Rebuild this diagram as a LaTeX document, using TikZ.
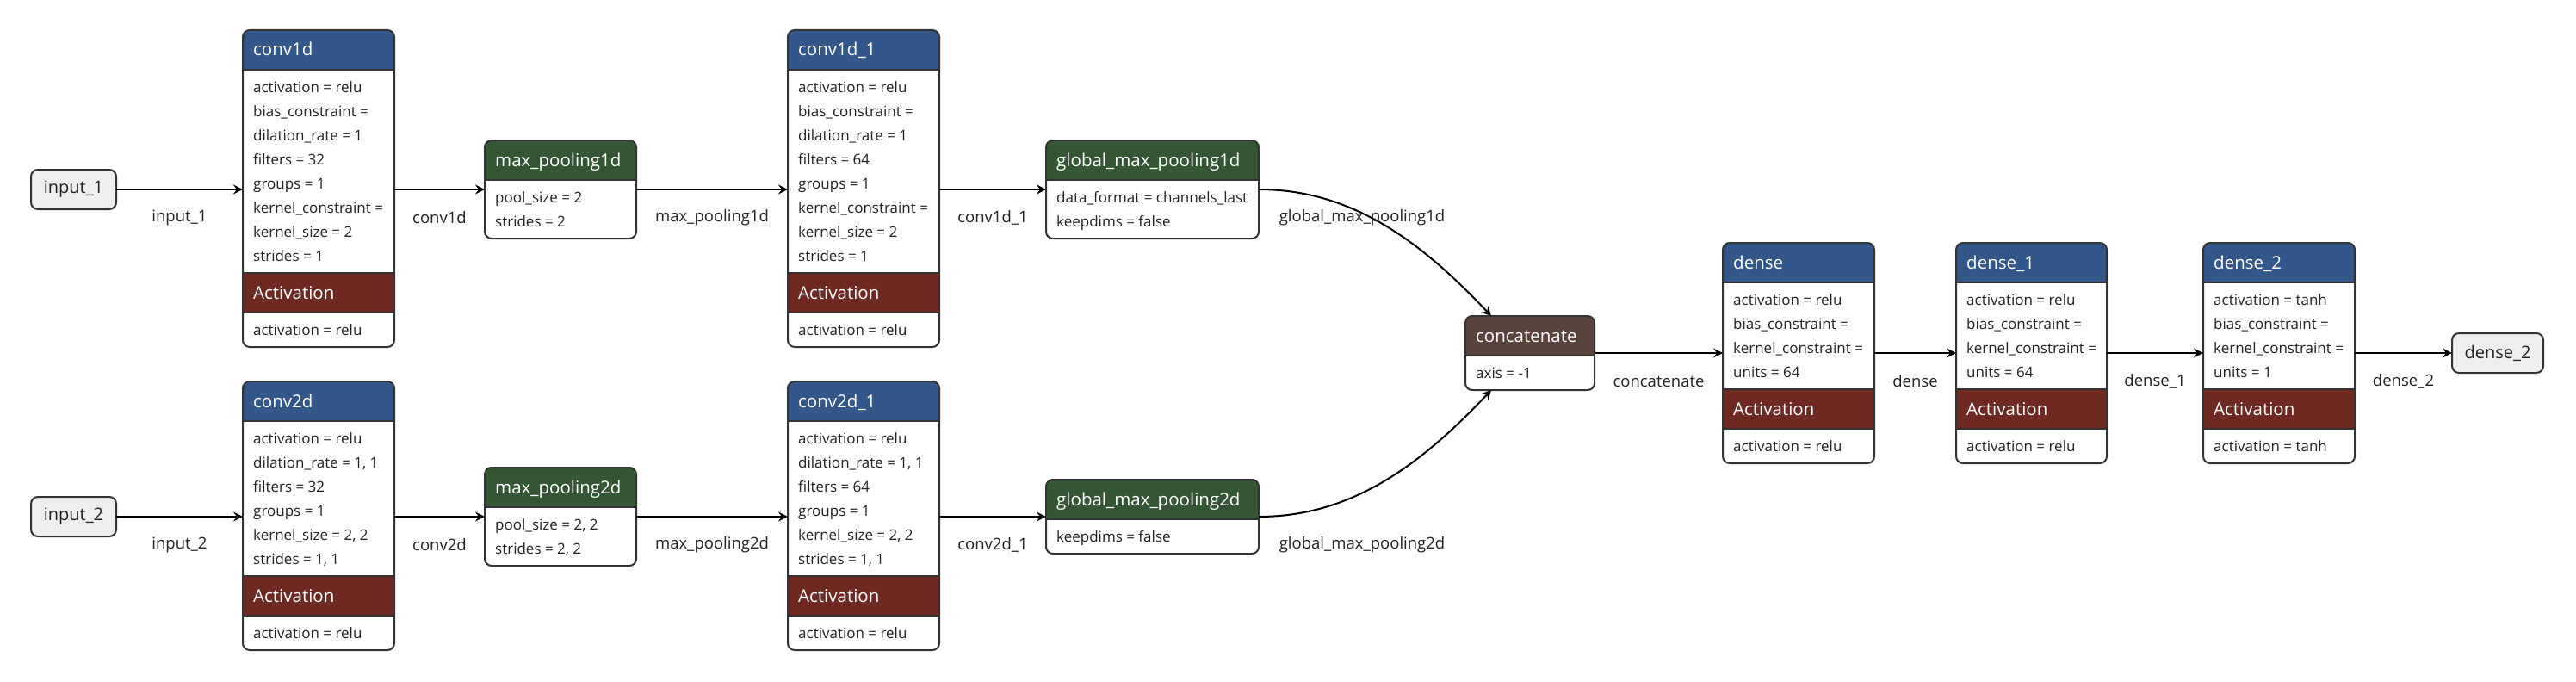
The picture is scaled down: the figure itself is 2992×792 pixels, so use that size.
\documentclass[tikz,border=0pt]{standalone}
\usepackage{fontspec}
\setmainfont{Open Sans}
\usetikzlibrary{arrows.meta,calc}
\definecolor{hblue}{HTML}{34578A}
\definecolor{hgreen}{HTML}{355634}
\definecolor{hred}{HTML}{6D2922}
\definecolor{hbrown}{HTML}{5A433C}
\definecolor{edgegray}{HTML}{333333}
\definecolor{infill}{HTML}{EEEEEE}
\definecolor{txt}{HTML}{222222}
\tikzset{
  lframe/.style={draw=edgegray, line width=2pt, rounded corners=8pt, inner sep=0pt, outer sep=0pt},
  sepline/.style={draw=edgegray, line width=2.5pt},
  ttl/.style={anchor=west, text=white, font=\fontsize{20.5}{24}\selectfont, inner sep=0pt, text height=15pt, text depth=5pt},
  prm/.style={anchor=west, text=txt, font=\fontsize{17}{20}\selectfont, inner sep=0pt, text height=12.5pt, text depth=4pt},
  iobox/.style={draw=edgegray, fill=infill, line width=2pt, rounded corners=8pt, inner sep=0pt, outer sep=0pt, text=txt, font=\fontsize{20}{24}\selectfont},
  elbl/.style={font=\fontsize{18.5}{22}\selectfont, text=txt, inner sep=0pt},
  arr/.style={draw=black, line width=2pt, -{Stealth[length=11pt,width=11pt,inset=4pt]}},
}
% plain layer: name, x1, x2, ytop, colour, title, n rows, rows
\newcommand\plainlayer[8]{%
  \pgfmathsetmacro\yb{#4+68+28*(#7-1)+18}
  \begin{scope}
    \clip[rounded corners=8pt] (#2,#4) rectangle (#3,\yb);
    \fill[white] (#2,#4) rectangle (#3,\yb);
    \fill[#5] (#2,#4) rectangle (#3,#4+46);
    \draw[sepline] (#2,#4+46) -- (#3,#4+46);
  \end{scope}
  \node[lframe, anchor=north west, minimum width={#3-#2}, minimum height={\yb-#4}] (#1) at (#2,#4) {};
  \node[ttl] (#1-t) at (#2+12,#4+25) {#6};
  \foreach \rowtext [count=\i] in {#8} {\node[prm] (#1-p\i) at (#2+12,{#4+68+28*(\i-1)}) {\rowtext};}
}
% layer with activation: name, x1, x2, ytop, title, n rows, rows, activation row
\newcommand\actlayer[8]{%
  \pgfmathsetmacro\ya{#4+68+28*(#6-1)+18}
  \pgfmathsetmacro\yb{\ya+46+22+18}
  \begin{scope}
    \clip[rounded corners=8pt] (#2,#4) rectangle (#3,\yb);
    \fill[white] (#2,#4) rectangle (#3,\yb);
    \fill[hblue] (#2,#4) rectangle (#3,#4+46);
    \fill[hred] (#2,\ya) rectangle (#3,\ya+46);
    \draw[sepline] (#2,#4+46) -- (#3,#4+46);
    \draw[sepline] (#2,\ya) -- (#3,\ya);
    \draw[sepline] (#2,\ya+46) -- (#3,\ya+46);
  \end{scope}
  \node[lframe, anchor=north west, minimum width={#3-#2}, minimum height={\yb-#4}] (#1) at (#2,#4) {};
  \node[ttl] (#1-t) at (#2+12,#4+25) {#5};
  \foreach \rowtext [count=\i] in {#7} {\node[prm] (#1-p\i) at (#2+12,{#4+68+28*(\i-1)}) {\rowtext};}
  \node[ttl] (#1-at) at (#2+12,\ya+25) {Activation};
  \node[prm] (#1-ap) at (#2+12,\ya+68) {#8};
}
\begin{document}
\begin{tikzpicture}[x=1pt,y=-1pt]
\fill[white] (0,0) rectangle (2992,792);
\useasboundingbox (0,0) rectangle (2992,792);

% inputs / output
\node[iobox, minimum width=99, minimum height=46] (in1) at (85.5,220) {input\_1};
\node[iobox, minimum width=99, minimum height=46] (in2) at (85.5,600) {input\_2};
\node[iobox, minimum width=106, minimum height=46] (out) at (2901,410) {dense\_2};

% top branch
\actlayer{conv1d}{282}{458}{35}{conv1d}{8}{activation = relu, bias\_constraint =, dilation\_rate = 1, filters = 32, groups = 1, kernel\_constraint =, kernel\_size = 2, strides = 1}{activation = relu}
\plainlayer{mp1d}{563}{739}{163}{hgreen}{max\_pooling1d}{2}{pool\_size = 2, strides = 2}
\actlayer{conv1d1}{915}{1091}{35}{conv1d\_1}{8}{activation = relu, bias\_constraint =, dilation\_rate = 1, filters = 64, groups = 1, kernel\_constraint =, kernel\_size = 2, strides = 1}{activation = relu}
\plainlayer{gmp1d}{1215}{1462}{163}{hgreen}{global\_max\_pooling1d}{2}{data\_format = channels\_last, keepdims = false}

% bottom branch
\actlayer{conv2d}{282}{458}{443}{conv2d}{6}{activation = relu, {dilation\_rate = 1, 1}, filters = 32, groups = 1, {kernel\_size = 2, 2}, {strides = 1, 1}}{activation = relu}
\plainlayer{mp2d}{563}{739}{543}{hgreen}{max\_pooling2d}{2}{{pool\_size = 2, 2}, {strides = 2, 2}}
\actlayer{conv2d1}{915}{1091}{443}{conv2d\_1}{6}{activation = relu, {dilation\_rate = 1, 1}, filters = 64, groups = 1, {kernel\_size = 2, 2}, {strides = 1, 1}}{activation = relu}
\plainlayer{gmp2d}{1215}{1462}{557}{hgreen}{global\_max\_pooling2d}{1}{keepdims = false}

% merge and dense
\plainlayer{concat}{1702}{1852}{367}{hbrown}{concatenate}{1}{axis = -1}
\actlayer{dense}{2001}{2177}{282}{dense}{4}{activation = relu, bias\_constraint =, kernel\_constraint =, units = 64}{activation = relu}
\actlayer{dense1}{2272}{2447}{282}{dense\_1}{4}{activation = relu, bias\_constraint =, kernel\_constraint =, units = 64}{activation = relu}
\actlayer{dense2}{2559}{2735}{282}{dense\_2}{4}{activation = tanh, bias\_constraint =, kernel\_constraint =, units = 1}{activation = tanh}

% connectors top
\draw[arr] (in1.east) -- (in1.east -| conv1d.west) node[elbl, midway, yshift=-33pt] (l-in1) {input\_1};
\draw[arr] (mp1d.west -| conv1d.east) -- (mp1d.west) node[elbl, midway, yshift=-33pt] (l-conv1d) {conv1d};
\draw[arr] (mp1d.east) -- (mp1d.east -| conv1d1.west) node[elbl, midway, yshift=-33pt] (l-mp1d) {max\_pooling1d};
\draw[arr] (gmp1d.west -| conv1d1.east) -- (gmp1d.west) node[elbl, midway, yshift=-33pt] (l-conv1d1) {conv1d\_1};
% connectors bottom
\draw[arr] (in2.east) -- (in2.east -| conv2d.west) node[elbl, midway, yshift=-33pt] (l-in2) {input\_2};
\draw[arr] (mp2d.west -| conv2d.east) -- (mp2d.west) node[elbl, midway, yshift=-33pt] (l-conv2d) {conv2d};
\draw[arr] (mp2d.east) -- (mp2d.east -| conv2d1.west) node[elbl, midway, yshift=-33pt] (l-mp2d) {max\_pooling2d};
\draw[arr] (gmp2d.west -| conv2d1.east) -- (gmp2d.west) node[elbl, midway, yshift=-33pt] (l-conv2d1) {conv2d\_1};
% curves into concatenate
\coordinate (ctop) at ($(concat.north west)+(30,0)$);
\coordinate (cbot) at ($(concat.south west)+(30,0)$);
\draw[arr] (gmp1d.east) .. controls +(108,0) and +(-82,-87) .. (ctop);
\draw[arr] (gmp2d.east) .. controls +(108,0) and +(-82,87) .. (cbot);
\node[elbl] (l-gmp1d) at ($(gmp1d.east)!0.5!(gmp1d.east -| concat.west)+(0,33)$) {global\_max\_pooling1d};
\node[elbl] (l-gmp2d) at ($(gmp2d.east)!0.5!(gmp2d.east -| concat.west)+(0,33)$) {global\_max\_pooling2d};
% dense chain
\draw[arr] (concat.east) -- (concat.east -| dense.west) node[elbl, midway, yshift=-33pt] (l-concat) {concatenate};
\draw[arr] (dense.east) -- (dense.east -| dense1.west) node[elbl, midway, yshift=-33pt] (l-dense) {dense};
\draw[arr] (dense1.east) -- (dense1.east -| dense2.west) node[elbl, midway, yshift=-33pt] (l-dense1) {dense\_1};
\draw[arr] (dense2.east) -- (dense2.east -| out.west) node[elbl, midway, yshift=-33pt] (l-dense2) {dense\_2};
\end{tikzpicture}
\end{document}
